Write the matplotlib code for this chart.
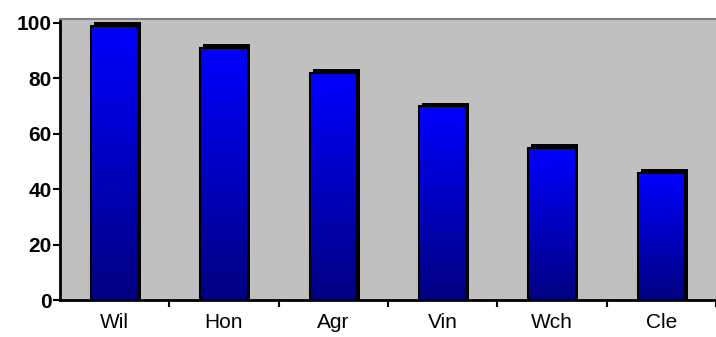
import numpy as np
import matplotlib
matplotlib.use('agg')
import matplotlib.pyplot as plt
from matplotlib.colors import LinearSegmentedColormap
from matplotlib.patches import Rectangle

plt.rcParams['font.family'] = ['Liberation Sans', 'DejaVu Sans']

categories = ['Wil', 'Hon', 'Agr', 'Vin', 'Wch', 'Cle']
values = [99, 91, 82, 70, 55, 46]
yticks = [0, 20, 40, 60, 80, 100]

W, H = 716, 337
fig = plt.figure(figsize=(W/100, H/100), dpi=100)
ax = fig.add_axes([60/W, 37/H, 656/W, 281/H])
ax.set_facecolor('#C0C0C0')

x = np.arange(len(categories))
width = 0.43

# blue-to-navy gradient, bright at the top
cmap = LinearSegmentedColormap.from_list('bluegrad', ['#000080', '#0000FF'])
grad = np.linspace(0, 1, 256).reshape(-1, 1)

for xi, v in zip(x, values):
    # dark drop shadow offset up/right
    sh = Rectangle((xi - width/2 + 0.025, 0), width, v + 1.2,
                   facecolor='black', edgecolor='none', zorder=2)
    ax.add_patch(sh)
    bar = Rectangle((xi - width/2, 0), width, v,
                    facecolor='none', edgecolor='black', linewidth=1.5, zorder=4)
    ax.add_patch(bar)
    im = ax.imshow(grad, cmap=cmap, aspect='auto', origin='lower',
                   extent=(xi - width/2, xi + width/2, 0, v), zorder=3,
                   interpolation='bilinear')
    im.set_clip_path(bar)

ax.set_xlim(-0.5, len(categories) - 0.5)
ax.set_ylim(0, 101.4)

ax.set_yticks(yticks)
ax.set_yticklabels([str(t) for t in yticks], fontsize=15, fontweight='bold')
ax.set_xticks(x + 0.5, minor=False)
ax.set_xticklabels([])
ax.set_xticks(x, minor=True)
ax.set_xticklabels(categories, minor=True, fontsize=15)
ax.tick_params(axis='x', which='minor', length=0, pad=9)
ax.tick_params(axis='x', which='major', length=5, width=1.5, direction='out', color='black')
ax.tick_params(axis='y', length=5, width=1.5, direction='out', pad=1, color='black')

for side in ['left', 'bottom']:
    ax.spines[side].set_linewidth(2)
    ax.spines[side].set_color('black')
ax.spines['top'].set_color('#808080')
ax.spines['top'].set_linewidth(1.5)
ax.spines['right'].set_visible(False)

fig.savefig('out.png', dpi=100)
